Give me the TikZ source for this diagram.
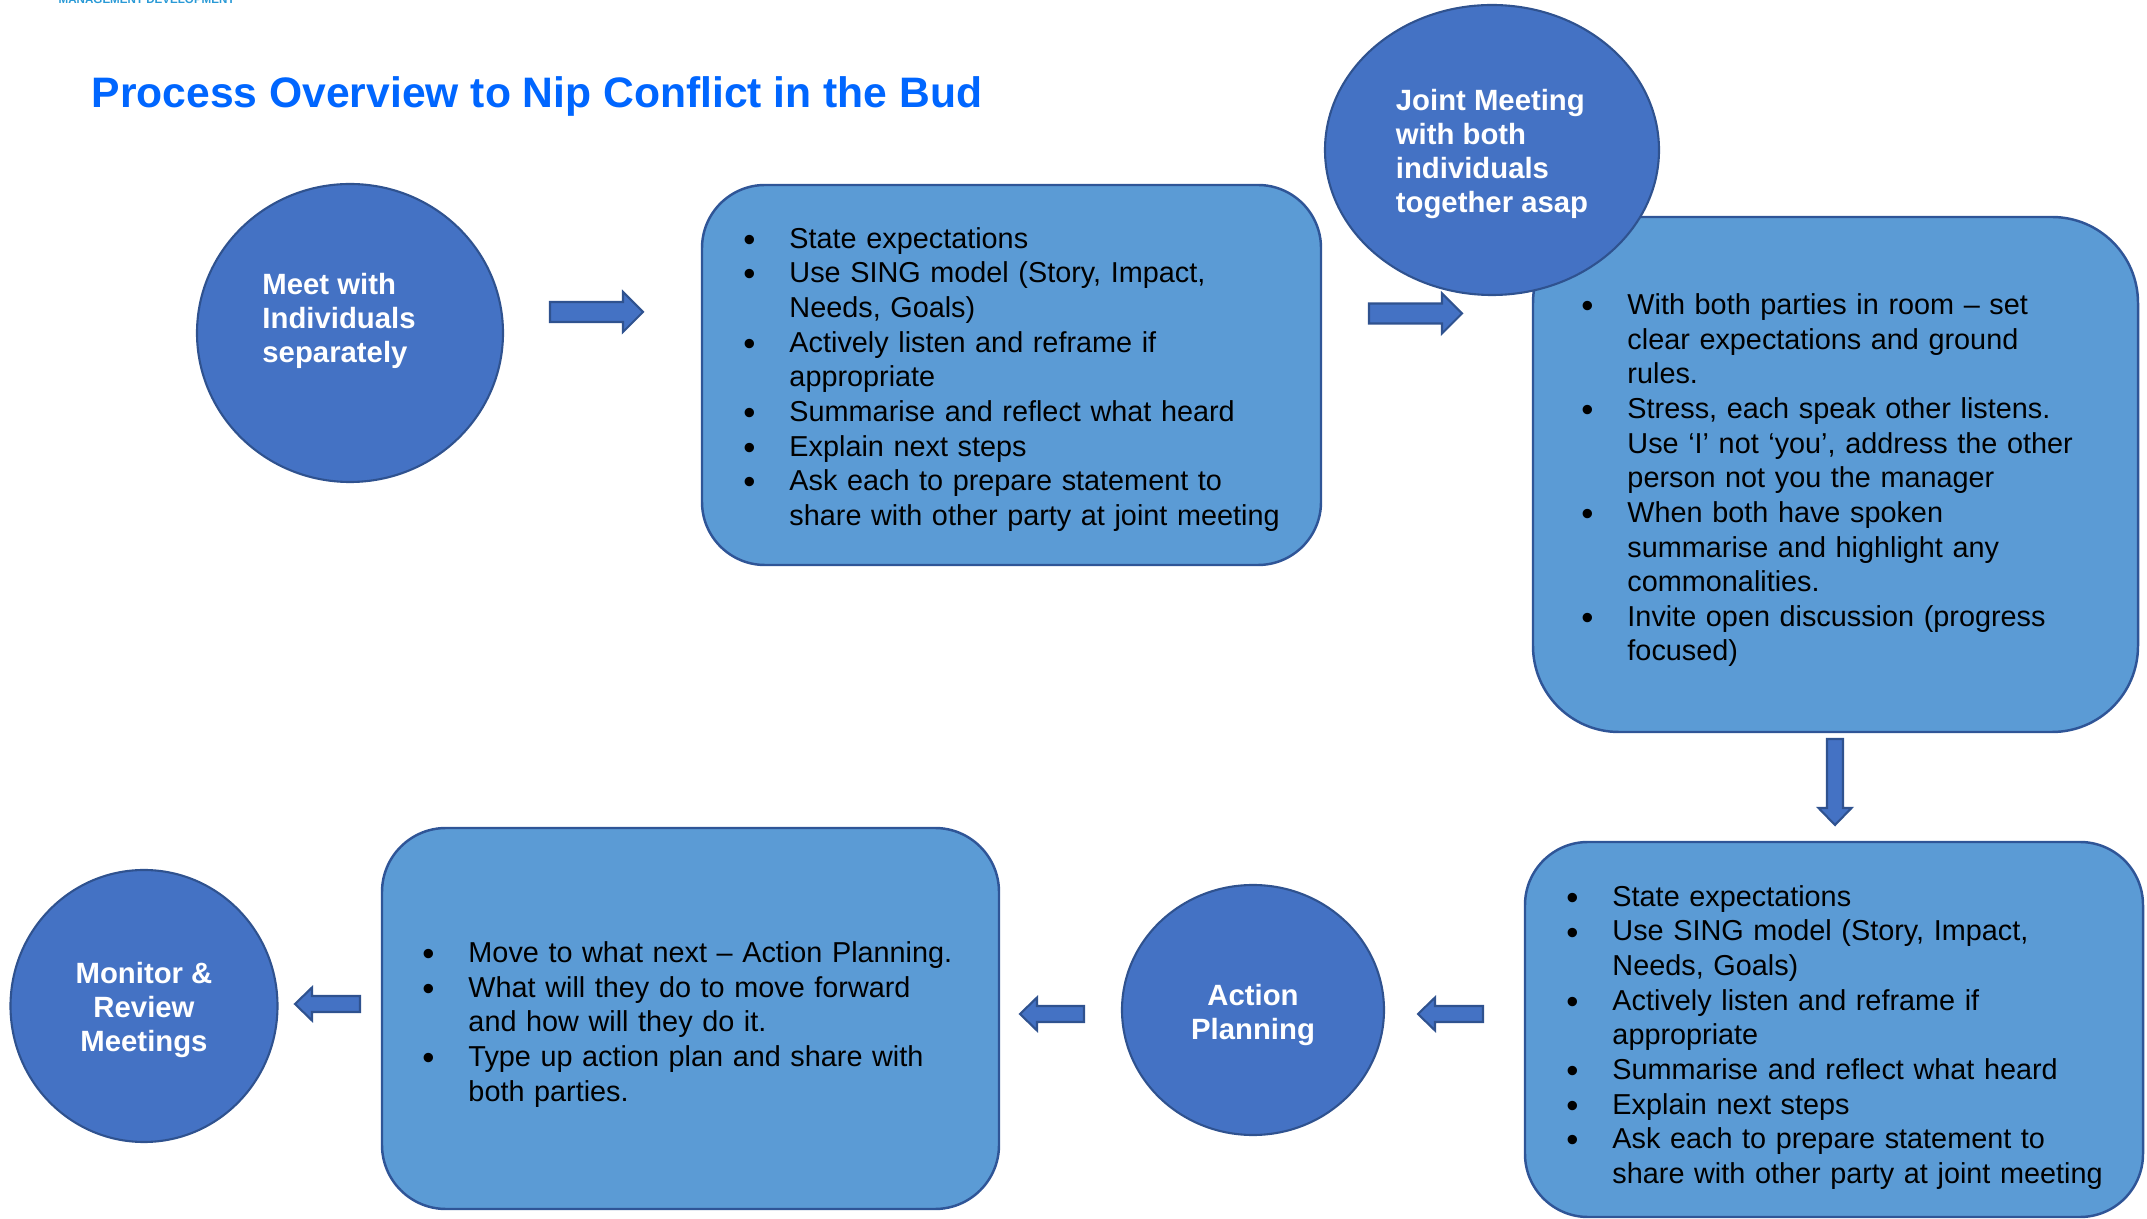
\documentclass[tikz,border=0pt]{standalone}
\usepackage{fontspec}
\setmainfont{Liberation Sans}
\usepackage{enumitem}
\usepackage{tikz}
\usetikzlibrary{shapes.geometric, positioning}
\definecolor{circfill}{HTML}{4472C4}
\definecolor{circline}{HTML}{2F528F}
\definecolor{boxfill}{HTML}{5B9BD5}
\definecolor{boxline}{HTML}{2F5597}
\definecolor{titleblue}{HTML}{0066FF}
\definecolor{logoblue}{HTML}{2A9AD6}
\newlist{steplist}{itemize}{1}
\setlist[steplist]{label=\hspace{-0.05cm}\raisebox{-0.2ex}{\scalebox{1.2}{\textbullet}}, leftmargin=0.41cm, labelsep=0pt, labelwidth=0.41cm, align=left, nosep}
\hyphenpenalty=10000
\exhyphenpenalty=10000

\begin{document}
\begin{tikzpicture}[
    ctext/.style={text=white, inner sep=0pt, font=\fontsize{8.34}{9.75}\selectfont\bfseries},
    circ/.style={ellipse, draw=circline, line width=0.6pt, fill=circfill, inner sep=0pt},
    box/.style={draw=boxline, line width=0.7pt, fill=boxfill},
    txt/.style={inner sep=0pt, anchor=west, align=left,
                font=\fontsize{8.2}{9.85}\selectfont},
    blk/.style={draw=circline, line width=0.6pt, fill=circfill},
    pics/bigarr/.style={code={
      \draw[blk] (0,-0.10) -- (0.73,-0.10) -- (0.73,-0.20) -- (0.93,0)
        -- (0.73,0.20) -- (0.73,0.10) -- (0,0.10) -- cycle;}},
    pics/smallarr/.style={code={
      \draw[blk] (0,-0.08) -- ({#1-0.17},-0.08) -- ({#1-0.17},-0.165) -- (#1,0)
        -- ({#1-0.17},0.165) -- ({#1-0.17},0.08) -- (0,0.08) -- cycle;}}
  ]
    \clip (0,0) rectangle (21.47,-12.19);

    \node[anchor=base west, inner sep=0pt, text=logoblue,
          font=\fontsize{3.3}{4}\selectfont\bfseries] (logo) at (0.58,-0.04) {MANAGEMENT DEVELOPMENT};
    \node[anchor=base west, inner sep=0pt, text=titleblue,
          font=\fontsize{12.13}{14}\selectfont\bfseries] (title) at (0.91,-1.08)
      {Process Overview to Nip Conflict in the Bud};

    % top row
    \node[circ, minimum width=3.06cm, minimum height=2.98cm] (meet) at (3.50,-3.33) {};
    \node[ctext, align=left] (meettxt) at ([shift={(-0.11,0.12)}]meet.center)
      {Meet with\\Individuals\\separately};

    \node[box, rounded corners=0.63cm, minimum width=6.19cm, minimum height=3.80cm] (sep) at (10.115,-3.75) {};
    \node[txt, text width=5.41cm] (septxt) at ([xshift=0.47cm, yshift=0.025cm]sep.west) {%
      \begin{steplist}
        \item State expectations
        \item Use SING model (Story, Impact, Needs, Goals)
        \item Actively listen and reframe if appropriate
        \item Summarise and reflect what heard
        \item Explain next steps
        \item Ask each to prepare statement to share with other party at joint meeting
      \end{steplist}};

    \node[box, rounded corners=0.86cm, minimum width=6.05cm, minimum height=5.15cm] (joint) at (18.355,-4.745) {};
    \node[txt, text width=4.96cm] (jointtxt) at ([xshift=0.54cm, yshift=0.01cm]joint.west) {%
      \begin{steplist}
        \item With both parties in room -- set clear expectations and ground rules.
        \item Stress, each speak other listens. Use ‘I’ not ‘you’, address the other person not you the manager
        \item When both have spoken summarise and highlight any commonalities.
        \item Invite open discussion (progress focused)
      \end{steplist}};
    \node[circ, minimum width=3.34cm, minimum height=2.90cm] (jmeet) at (14.92,-1.50) {};
    \node[ctext, align=left] (jmeettxt) at ([yshift=-0.04cm]jmeet.center)
      {Joint Meeting\\with both\\individuals\\together asap};

    % bottom row
    \node[box, rounded corners=0.63cm, minimum width=6.18cm, minimum height=3.75cm] (prep) at (18.34,-10.295) {};
    \node[txt, text width=5.41cm] (preptxt) at ([xshift=0.47cm, yshift=-0.01cm]prep.west) {%
      \begin{steplist}
        \item State expectations
        \item Use SING model (Story, Impact, Needs, Goals)
        \item Actively listen and reframe if appropriate
        \item Summarise and reflect what heard
        \item Explain next steps
        \item Ask each to prepare statement to share with other party at joint meeting
      \end{steplist}};

    \node[circ, minimum width=2.62cm, minimum height=2.50cm] (action) at (12.53,-10.10) {};
    \node[ctext, align=center] (actiontxt) at ([yshift=-0.05cm]action.center) {Action\\Planning};

    \node[box, rounded corners=0.64cm, minimum width=6.17cm, minimum height=3.81cm] (plan) at (6.905,-10.185) {};
    \node[txt, text width=5.30cm] (plantxt) at ([xshift=0.46cm, yshift=0.01cm]plan.west) {%
      \begin{steplist}
        \item Move to what next -- Action Planning.
        \item What will they do to move forward and how will they do it.
        \item Type up action plan and share with both parties.
      \end{steplist}};

    \node[circ, minimum width=2.67cm, minimum height=2.72cm] (monitor) at (1.44,-10.06) {};
    \node[ctext, align=center] (monitortxt) at ([yshift=-0.04cm]monitor.center)
      {Monitor \&\\Review\\Meetings};

    % block arrows
    \pic (arr1) at (5.50,-3.12) {bigarr};
    \pic (arr2) at (13.69,-3.135) {bigarr};
    \pic[rotate=-90] (arr3) at (18.35,-7.39) {smallarr=0.86};
    \pic[rotate=180] (arr4) at (14.83,-10.14) {smallarr=0.65};
    \pic[rotate=180] (arr5) at (10.84,-10.14) {smallarr=0.64};
    \pic[rotate=180] (arr6) at (3.60,-10.04) {smallarr=0.65};
  \end{tikzpicture}
\end{document}
